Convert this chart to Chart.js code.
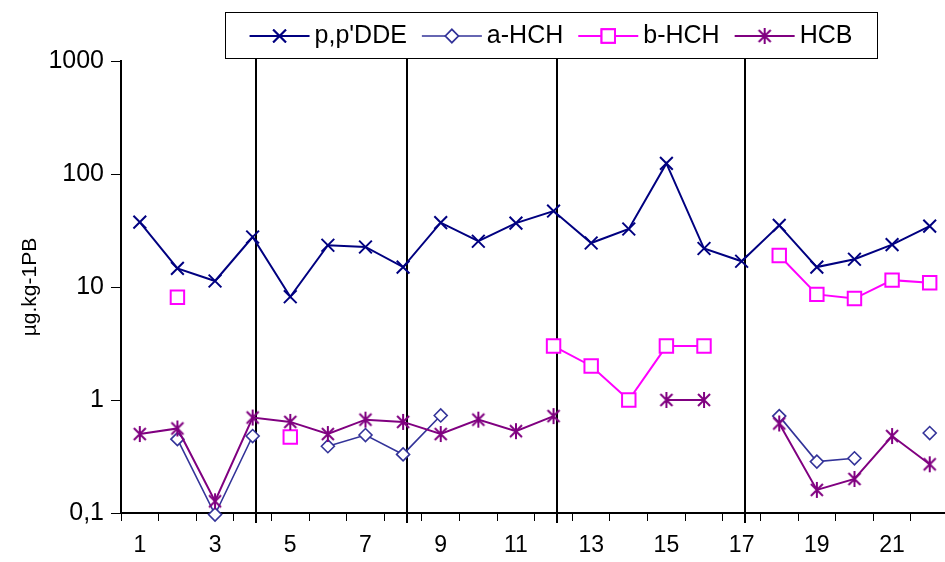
<!DOCTYPE html>
<html>
<head>
<meta charset="utf-8">
<script src="https://cdn.jsdelivr.net/npm/chart.js@4/dist/chart.umd.min.js"></script>
<style>
  html, body { margin: 0; padding: 0; background: #fff; overflow: hidden; }
  #wrap { width: 945px; height: 562px; overflow: hidden; }
</style>
</head>
<body>
<div id="wrap"><canvas id="chart" width="960" height="562"></canvas></div>
<script>
const categories = ["1","2","3","4","5","6","7","8","9","10","11","12","13","14","15","16","17","18","19","20","21","22"];
const ppDDE = [37.5, 14.6, 11.3, 27.7, 8.2, 23.4, 22.6, 15.0, 37.1, 25.4, 36.8, 47, 24.5, 32.6, 124, 21.9, 16.9, 35.1, 15.0, 17.6, 23.7, 34.6];
const aHCH = [null, 0.45, 0.097, 0.48, null, 0.39, 0.49, 0.33, 0.73, null, null, null, null, null, null, null, null, 0.72, 0.285, 0.305, null, 0.51];
const bHCH = [null, 8.1, null, null, 0.47, null, null, null, null, null, null, 3.0, 2.0, 1.0, 3.0, 3.0, null, 19.0, 8.6, 7.9, 11.5, 10.9];
const hcb = [0.50, 0.56, 0.127, 0.70, 0.64, 0.50, 0.67, 0.64, 0.50, 0.67, 0.53, 0.72, null, null, 1.0, 1.0, null, 0.62, 0.16, 0.20, 0.48, 0.27];
const yTicks = [0.1, 1, 10, 100, 1000];
const separators = ["4", "8", "12", "17"];

const FONT = "'Liberation Sans', Arial, sans-serif";

// asterisk marker like the spreadsheet one (x plus vertical bar)
function starMarker(color) {
  const c = document.createElement("canvas");
  c.width = 18; c.height = 18;
  const g = c.getContext("2d");
  g.strokeStyle = color;
  g.lineWidth = 2;
  g.beginPath();
  g.moveTo(3, 3); g.lineTo(15, 15);
  g.moveTo(15, 3); g.lineTo(3, 15);
  g.moveTo(9, 1); g.lineTo(9, 17);
  g.stroke();
  return c;
}
const hcbStar = starMarker("#800080");

const series = [
  { label: "p,p'DDE", data: ppDDE, color: "#000080", style: "crossRot", radius: 9, width: 2, order: 1 },
  { label: "a-HCH", data: aHCH, color: "#333399", style: "rectRot", radius: 6.5, width: 1.6, order: 2 },
  { label: "b-HCH", data: bHCH, color: "#FF00FF", style: "rect", radius: 9.5, width: 2, order: 3 },
  { label: "HCB", data: hcb, color: "#800080", style: hcbStar, radius: 9, width: 2, order: 0 }
];

const separatorPlugin = {
  id: "separators",
  beforeDatasetsDraw(chart) {
    const x = chart.scales.x;
    const ctx = chart.ctx;
    ctx.save();
    ctx.strokeStyle = "#000";
    ctx.lineWidth = 2;
    separators.forEach(s => {
      const px = Math.round(x.getPixelForValue(categories.indexOf(s) + 0.1));
      ctx.beginPath();
      ctx.moveTo(px, 58);
      ctx.lineTo(px, chart.chartArea.bottom + 10);
      ctx.stroke();
    });
    ctx.restore();
  }
};

const legendPlugin = {
  id: "boxLegend",
  afterDraw(chart) {
    const ctx = chart.ctx;
    ctx.save();
    ctx.font = "25px " + FONT;
    const lineW = 60, gapText = 5, gapItem = 15;
    const widths = series.map(s => ctx.measureText(s.label).width);
    const total = widths.reduce((a, w) => a + lineW + gapText + w, 0) + gapItem * (series.length - 1);
    const boxL = 225, boxR = 877, boxT = 12, boxB = 58;
    ctx.strokeStyle = "#000";
    ctx.lineWidth = 1;
    ctx.strokeRect(boxL + 0.5, boxT + 0.5, boxR - boxL, boxB - boxT);
    let x = (boxL + boxR) / 2 - total / 2;
    const cy = (boxT + boxB) / 2 + 1;
    series.forEach((s, i) => {
      ctx.strokeStyle = s.color;
      ctx.lineWidth = s.width;
      ctx.beginPath();
      ctx.moveTo(x, cy);
      ctx.lineTo(x + lineW, cy);
      ctx.stroke();
      ctx.fillStyle = "#fff";
      Chart.helpers.drawPoint(ctx, { pointStyle: s.style, radius: s.radius, rotation: 0, borderWidth: s.width }, x + lineW / 2, cy);
      if (typeof s.style === "string") {
        ctx.fill();
        ctx.stroke();
      }
      ctx.fillStyle = "#000";
      ctx.textBaseline = "middle";
      ctx.textAlign = "left";
      ctx.fillText(s.label, x + lineW + gapText, cy);
      x += lineW + gapText + widths[i] + gapItem;
    });
    ctx.restore();
  }
};

new Chart(document.getElementById("chart"), {
  type: "line",
  data: {
    labels: categories,
    datasets: series.map(s => ({
      label: s.label,
      data: s.data,
      borderColor: s.color,
      backgroundColor: "#fff",
      borderWidth: s.width,
      pointStyle: s.style,
      pointRadius: s.radius,
      pointHoverRadius: s.radius,
      pointBorderColor: s.color,
      pointBackgroundColor: "#fff",
      pointBorderWidth: s.width,
      tension: 0,
      clip: false,
      order: s.order
    }))
  },
  options: {
    responsive: false,
    animation: false,
    layout: { padding: { top: 61, right: 5, bottom: 0, left: 0 } },
    plugins: { legend: { display: false }, tooltip: { enabled: false } },
    scales: {
      x: {
        type: "category",
        offset: true,
        grid: { offset: true, drawOnChartArea: false, drawTicks: true, tickLength: 8, color: "#000", lineWidth: 1 },
        border: { color: "#000", width: 2 },
        ticks: {
          autoSkip: false,
          maxRotation: 0,
          padding: 11,
          color: "#000",
          font: { family: FONT, size: 23 },
          callback: (v, i) => (i % 2 === 0 ? categories[i] : "")
        },
        afterFit: s => { s.height = 49; }
      },
      y: {
        type: "logarithmic",
        min: 0.1,
        max: 1000,
        afterBuildTicks: s => { s.ticks = yTicks.map(v => ({ value: v })); },
        afterFit: s => { s.width = 121; },
        grid: { drawOnChartArea: false, drawTicks: true, tickLength: 10, color: "#000", lineWidth: 1 },
        border: { color: "#000", width: 2 },
        ticks: {
          padding: 7,
          color: "#000",
          font: { family: FONT, size: 25 },
          callback: v => String(v).replace(".", ",")
        },
        title: {
          display: true,
          text: "µg.kg-1PB",
          color: "#000",
          font: { family: FONT, size: 21 },
          padding: { top: 18, bottom: 0 }
        }
      }
    }
  },
  plugins: [separatorPlugin, legendPlugin]
});
</script>
</body>
</html>
